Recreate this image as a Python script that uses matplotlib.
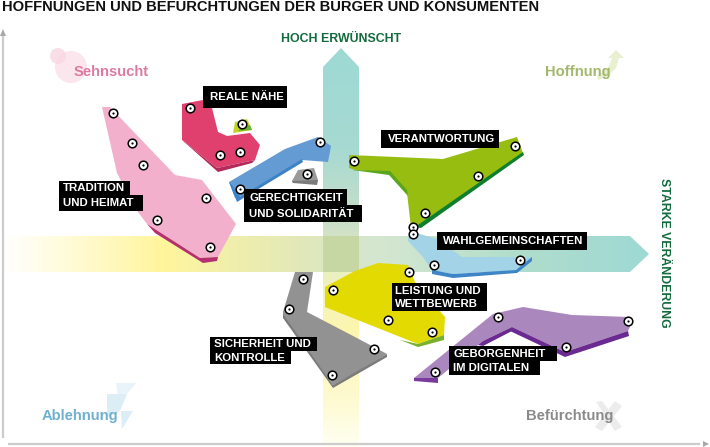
import numpy as np
import matplotlib
matplotlib.use("Agg")
import matplotlib.pyplot as plt
from matplotlib.patches import Polygon, Circle, Rectangle
from matplotlib.colors import LinearSegmentedColormap

FONT = "Liberation Sans"
plt.rcParams["font.family"] = [FONT, "DejaVu Sans"]

TITLE = "HOFFNUNGEN UND BEFÜRCHTUNGEN DER BÜRGER UND KONSUMENTEN"
Y_AXIS_LABEL = "HOCH ERWÜNSCHT"
X_AXIS_LABEL = "STARKE VERÄNDERUNG"
CORNERS = [("Sehnsucht", 111, 72, "#dc7ba0"), ("Hoffnung", 578, 72, "#a3b86c"),
           ("Ablehnung", 80, 416, "#6fb0cf"), ("Befürchtung", 570, 416, "#8a8a8a")]

tradition = [(102,107),(110,107),(175,175),(202,180),(236,224),(218,257),(200,258),(147,224),(135,208),(117,173)]
tradition_shade = [(147,224),(200,258),(218,257),(217,261),(203,263),(155,233)]
tradition_pts = [(113,113),(132,143),(143,165),(206,198),(157,220),(210,247)]

reale = [(182,104),(203,100),(212,108),(218,132),(227,136),(250,133),(260,145),(255,160),(217,168),(182,140)]
reale_shade = [(182,140),(217,168),(255,160),(252,163),(218,172)]
reale_pts = [(190,108),(220,155),(240,152)]

small_green = [(233,133),(235,122),(247,119),(252,130)]
small_green_shade = [(242,127),(250,125),(252,130),(238,131)]
small_green_pts = [(242,124)]

blue = [(229,182),(285,149),(318,137),(331,146),(328,162),(302,160),(245,196),(235,198)]
blue_shade = [(229,182),(232,185),(240,197),(302,159),(303,162),(237,202)]
blue_pts = [(320,142),(240,189)]

grey_small = [(292,181),(298,170),(314,168),(318,180),(317,183),(293,183)]
grey_small_shade = [(292,181),(318,180),(317,185),(293,183)]
grey_small_pts = [(307,174)]

green = [(349,155),(443,159),(517,137),(523,153),(420,224),(412,236),(407,193),(390,173),(355,170),(349,168)]
green_shade = [(390,171),(407,190),(408,196),(389,175),(352,170)]
green_shade2 = [(523,152),(524,155),(421,228),(415,227)]
green_pts = [(354,161),(515,146),(478,176),(425,213),(413,227),(413,234)]

wahl = [(408,237),(413,232),(437,239),(462,257),(532,257),(516,270),(453,274),(432,270),(423,257),(408,241)]
wahl_shade = [(432,270),(453,274),(516,270),(532,257),(532,261),(517,273),(453,278),(432,274)]
wahl_pts = [(434,265),(520,260)]

yellow = [(325,287),(355,271),(378,263),(408,265),(415,282),(445,317),(444,335),(418,344),(325,307)]
yellow_shade = [(418,344),(444,335),(444,340),(418,347),(400,340)]
yellow_pts = [(333,290),(409,272),(388,320),(432,332)]

grey = [(295,272),(313,272),(307,312),(355,337),(387,354),(355,373),(333,385),(283,317),(283,312)]
grey_shade = [(283,314),(333,385),(387,354),(387,357),(333,388),(283,318)]
grey_pts = [(303,279),(289,309),(332,375),(374,349)]

purple = [(414,378),(493,314),(523,307),(572,315),(630,317),(632,322),(628,331),(565,352),(512,327),(483,341),(438,378)]
purple_shade = [(414,378),(438,378),(438,383),(414,381)]
purple_shade2 = [(483,341),(512,327),(512,331),(483,346),(478,345)]
purple_shade3 = [(512,327),(565,352),(628,331),(629,336),(565,357),(510,331)]
purple_pts = [(498,317),(628,321),(566,347),(435,372)]

GROUPS = [
    (tradition, "#f2b0cd", [(tradition_shade, "#b5306f")], tradition_pts),
    (reale, "#e0406e", [(reale_shade, "#b4295a")], reale_pts),
    (small_green, "#c3d420", [(small_green_shade, "#6ab32e")], small_green_pts),
    (blue, "#649bd2", [(blue_shade, "#3d82c4")], blue_pts),
    (grey_small, "#9a9a9a", [(grey_small_shade, "#7b7b7b")], grey_small_pts),
    (grey, "#929292", [(grey_shade, "#7b7b7b")], grey_pts),
    (yellow, "#e2da00", [(yellow_shade, "#79b02c")], yellow_pts),
    (wahl, "#a3d3e7", [(wahl_shade, "#3d85c6")], wahl_pts),
    (purple, "#aa87bd", [(purple_shade, "#7a3a9e"), (purple_shade2, "#6b2a92"), (purple_shade3, "#6b2a92")], purple_pts),
    (green, "#96bd10", [(green_shade, "#5aa51e"), (green_shade2, "#0e7f2e")], green_pts),
]

# label lines: (text, box left, box top, box right, box bottom, text inset)
LABELS = [
    ("REALE NÄHE", 203, 86, 287, 108, 7),
    ("TRADITION", 59, 181, 130, 195, 4),
    ("UND HEIMAT", 59, 195, 143, 211, 4),
    ("GERECHTIGKEIT", 244, 189, 347, 207, 5),
    ("UND SOLIDARITÄT", 244, 205, 362, 222, 5),
    ("VERANTWORTUNG", 381, 130, 499, 148, 7),
    ("WAHLGEMEINSCHAFTEN", 437, 232, 587, 250, 6),
    ("LEISTUNG UND", 392, 283, 487, 298, 3),
    ("WETTBEWERB", 392, 297, 487, 311, 3),
    ("SICHERHEIT UND", 210, 337, 317, 351, 4),
    ("KONTROLLE", 210, 351, 291, 364, 4),
    ("GEBORGENHEIT", 449, 346, 557, 361, 4),
    ("IM DIGITALEN", 449, 361, 540, 375, 4),
]

v_arrow = [(323,67),(341,48),(359,67),(359,447),(323,447)]
h_arrow = [(3,236),(630,236),(649,254),(630,272),(3,272)]
v_stops = [(0.0,"#9ed9d5"),(0.25,"#a6dad2"),(0.444,"#ccdfc8"),(0.56,"#ebf0c0"),(0.707,"#fdf6b0"),(0.88,"#fefad0"),(1.0,"#fffff2")]
h_stops = [(0.0,"#ffffff"),(0.06,"#fffde8"),(0.15,"#fff9c4"),(0.25,"#fff59b"),(0.3,"#f7f2a6"),(0.46,"#e2e8b8"),(0.55,"#d6e6cc"),(0.61,"#d2e6d0"),(0.8,"#b0ddcc"),(1.0,"#9ed9d5")]
overlap_color = "#c6d7a4"

fig = plt.figure(figsize=(7.1, 4.47), dpi=100)
ax = fig.add_axes([0, 0, 1, 1])
ax.set_xlim(0, 710)
ax.set_ylim(447, 0)
ax.axis("off")

vc = LinearSegmentedColormap.from_list("v", v_stops)
hc = LinearSegmentedColormap.from_list("h", h_stops)
vgrad = np.linspace(0, 1, 256)[:, None]
hgrad = np.linspace(0, 1, 256)[None, :]

im = ax.imshow(vgrad, cmap=vc, extent=(323, 359, 447, 48), aspect="auto", zorder=1)
p = Polygon(v_arrow, transform=ax.transData, fc="none", ec="none"); ax.add_patch(p); im.set_clip_path(p)
im = ax.imshow(hgrad, cmap=hc, extent=(3, 649, 272, 236), aspect="auto", zorder=1.1)
p = Polygon(h_arrow, transform=ax.transData, fc="none", ec="none"); ax.add_patch(p); im.set_clip_path(p)
ax.add_patch(Rectangle((323, 236), 36, 36, fc=overlap_color, ec="none", zorder=1.2))
ax.set_xlim(0, 710)
ax.set_ylim(447, 0)

# axes arrows
ax.plot([3, 3], [438, 36], color="#cccccc", lw=1.6, zorder=1.5, solid_capstyle="butt")
ax.add_patch(Polygon([(0,36),(3,29),(6,36)], fc="#a8a8a8", ec="none", zorder=1.5))
ax.plot([8, 700], [444, 444], color="#cccccc", lw=1.6, zorder=1.5, solid_capstyle="butt")
ax.add_patch(Polygon([(703,441),(709,444),(703,447)], fc="#a8a8a8", ec="none", zorder=1.5))

# corner decorations
ax.add_patch(Circle((71, 67), 16, fc="#fbe6ed", ec="none", zorder=1))
ax.add_patch(Circle((58, 56), 8, fc="#f9d6e2", ec="none", alpha=0.8, zorder=1.1))
ax.add_patch(Polygon([(616,50),(624,58),(619,58),(616,68),(608,76),(598,80),(597,76),(603,72),(609,66),(612,58),(608,58)],
                     fc="#e9f0d2", ec="none", zorder=1))
ax.add_patch(Polygon([(116,383),(136,383),(127,394),(107,394),(107,417),(120,411)], fc="#e8f4fa", ec="none", zorder=1))
ax.add_patch(Polygon([(107,394),(127,394),(120,411),(133,411),(122,429),(121,411),(107,417)], fc="#dcedf6", ec="none", zorder=1))
ax.add_patch(Polygon([(596,402),(602,401),(622,427),(615,431)], fc="#ececec", ec="none", zorder=1))
ax.add_patch(Polygon([(615,401),(622,406),(602,431),(595,427)], fc="#ececec", ec="none", zorder=1))

# shapes
for poly, col, shades, pts in GROUPS:
    ax.add_patch(Polygon(poly, fc=col, ec="none", zorder=3))
    for s, sc in shades:
        ax.add_patch(Polygon(s, fc=sc, ec="none", zorder=3.1))
    xs_, ys_ = zip(*pts)
    ax.plot(xs_, ys_, "o", ms=6.2, mfc="white", mec="black", mew=1.1, zorder=5, ls="none")
    ax.plot(xs_, ys_, "o", ms=1.6, mfc="black", mec="none", zorder=5.1, ls="none")

# labels
for txt, x0, y0, x1, y1, inset in LABELS:
    ax.add_patch(Rectangle((x0, y0), x1 - x0, y1 - y0, fc="black", ec="none", zorder=6))
    ax.text(x0 + inset, (y0 + y1) / 2 + 0.3, txt, color="white", fontsize=8.2, fontweight="bold",
            va="center", ha="left", zorder=7)

# titles
ax.text(2, 7, TITLE, fontsize=10.6, color="#111111", va="center", ha="left", fontweight="bold")
ax.text(341.5, 39, Y_AXIS_LABEL, fontsize=8.9, fontweight="bold", color="#136b3d", ha="center", va="center")
ax.text(664, 253, X_AXIS_LABEL, fontsize=8.8, fontweight="bold", color="#136b3d", ha="center", va="center", rotation=-90)
for t, x, y, c in CORNERS:
    ax.text(x, y, t, fontsize=10.6, fontweight="bold", color=c, ha="center", va="center", zorder=4)

fig.savefig("out.png", dpi=100)
